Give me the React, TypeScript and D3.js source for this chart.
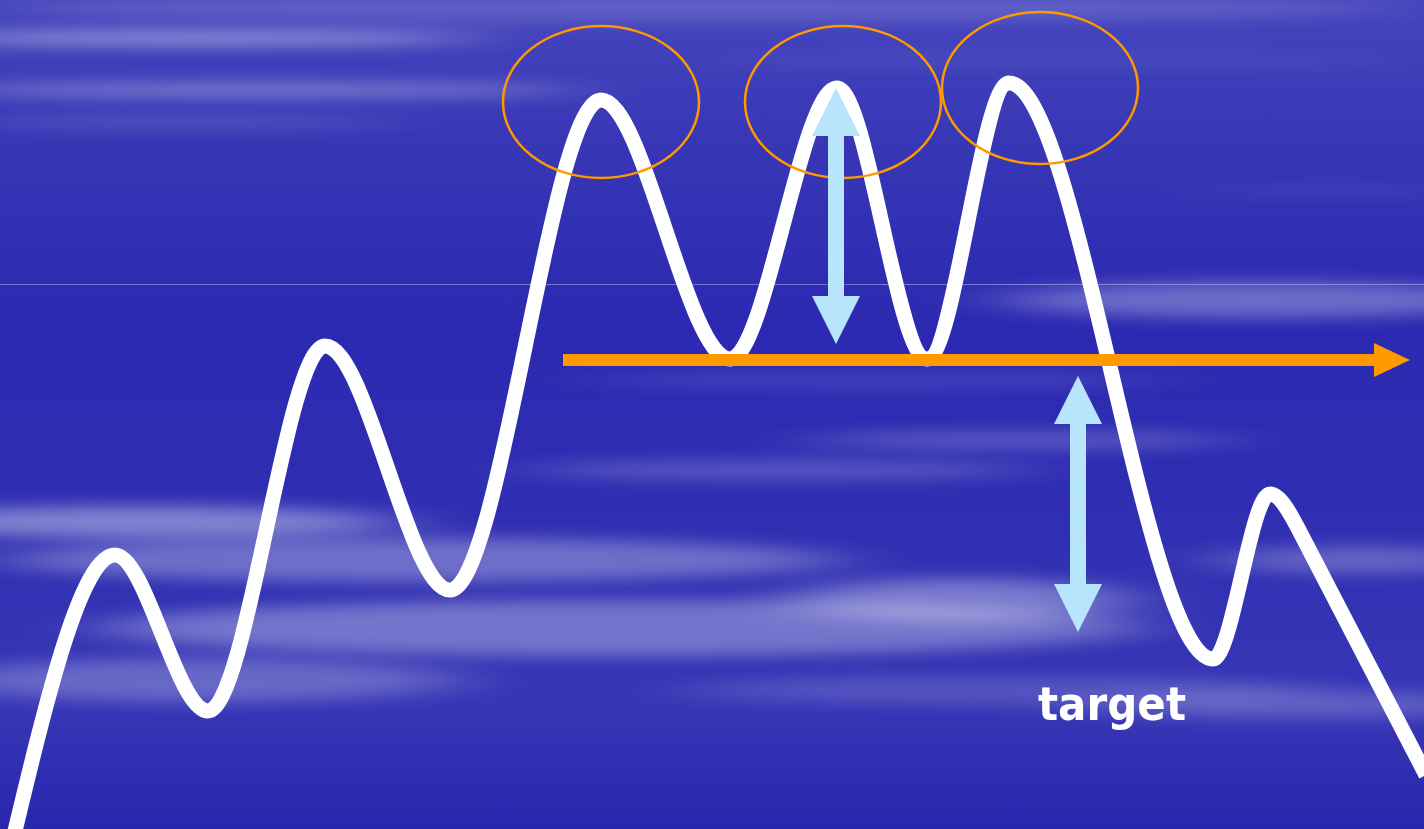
import React from "react";
import * as d3 from "d3";

const W = 1424;
const H = 829;

// wave (x position, level value; higher value = higher on screen)
const waveX = [14, 115, 208, 325, 450, 601, 730, 837, 927, 1009, 1213, 1270, 1301];
const waveV = [-6, 274, 118, 483, 239, 729, 470, 741, 470, 746, 170, 335, 295];
// straight final descent of the wave
const tailX = [1301, 1426];
const tailV = [295, 54];

// threshold line level
const thresholdV = 469;
const thresholdX = [563, 1410];

// highlighted peaks (ellipses)
const peakCx = [601, 843, 1040];
const peakCv = [727, 727, 741];

// double arrows: x, top value, bottom value
const arrowX = [836, 1078];
const arrowTopV = [741, 453];
const arrowBotV = [485, 197];

const labelText = "target";

// background streaks (decoration): cx, cy, rx, ry, opacity
const streaks: [number, number, number, number, number][] = [
  [200, 38, 280, 7, 0.45],
  [260, 90, 320, 7, 0.35],
  [180, 122, 220, 5, 0.18],
  [700, 8, 700, 14, 0.15],
  [1050, 60, 350, 6, 0.08],
  [1260, 300, 260, 18, 0.3],
  [1330, 190, 150, 4, 0.1],
  [140, 522, 260, 16, 0.4],
  [420, 560, 420, 22, 0.3],
  [620, 628, 520, 28, 0.32],
  [960, 600, 170, 22, 0.35],
  [780, 470, 260, 10, 0.2],
  [1020, 440, 220, 9, 0.22],
  [1360, 560, 150, 14, 0.25],
  [1300, 705, 220, 14, 0.2],
  [200, 680, 260, 22, 0.25],
  [1000, 690, 320, 14, 0.15],
  [880, 380, 300, 8, 0.12],
];

export default function App() {
  const x = d3.scaleLinear().domain([0, W]).range([0, W]);
  const y = d3.scaleLinear().domain([0, H]).range([H, 0]);

  const pts: [number, number][] = waveX.map((v, i) => [v, waveV[i]]);
  const tailPts: [number, number][] = tailX.map((v, i) => [v, tailV[i]]);
  const line = d3
    .line<[number, number]>()
    .x((d) => x(d[0]))
    .y((d) => y(d[1]))
    .curve(d3.curveMonotoneX);
  const straight = d3
    .line<[number, number]>()
    .x((d) => x(d[0]))
    .y((d) => y(d[1]));

  const ty = y(thresholdV);
  const x0 = x(thresholdX[0]);
  const x1 = x(thresholdX[1]);
  const headLen = 36;
  const orangePath = `M${x0},${ty - 6} L${x1 - headLen},${ty - 6} L${x1 - headLen},${ty - 17} L${x1},${ty} L${x1 - headLen},${ty + 17} L${x1 - headLen},${ty + 6} L${x0},${ty + 6} Z`;

  const dbl = (cx: number, yt: number, yb: number) => {
    const hw = 24;
    const sw = 8;
    const hl = 48;
    return `M${cx},${yt} L${cx + hw},${yt + hl} L${cx + sw},${yt + hl} L${cx + sw},${yb - hl} L${cx + hw},${yb - hl} L${cx},${yb} L${cx - hw},${yb - hl} L${cx - sw},${yb - hl} L${cx - sw},${yt + hl} L${cx - hw},${yt + hl} Z`;
  };

  const waveD = (line(pts) || "") + " " + (straight(tailPts) || "").replace(/^M/, "L");

  return (
    <svg
      width={W}
      height={H}
      style={{ position: "fixed", left: 0, top: 0, display: "block" }}
    >
      <defs>
        <linearGradient id="bg" x1="0" y1="0" x2="0" y2="1">
          <stop offset="0" stopColor="#4545bd" />
          <stop offset="0.2" stopColor="#3535b5" />
          <stop offset="0.4" stopColor="#2b29b1" />
          <stop offset="0.7" stopColor="#3131b3" />
          <stop offset="0.85" stopColor="#3737b6" />
          <stop offset="1" stopColor="#2826ae" />
        </linearGradient>
        <filter id="blur" x="-50%" y="-300%" width="200%" height="700%">
          <feGaussianBlur stdDeviation="45 8" />
        </filter>
      </defs>
      <rect x={0} y={0} width={W} height={H} fill="url(#bg)" />
      <g filter="url(#blur)">
        {streaks.map((s, i) => (
          <ellipse
            key={i}
            cx={s[0]}
            cy={s[1]}
            rx={s[2]}
            ry={s[3]}
            fill="#ffffff"
            opacity={s[4]}
          />
        ))}
      </g>
      <line
        x1={0}
        x2={W}
        y1={284.5}
        y2={284.5}
        stroke="#ffffff"
        strokeOpacity={0.35}
        strokeWidth={1}
      />
      <path
        d={waveD}
        fill="none"
        stroke="#ffffff"
        strokeWidth={15}
        strokeLinejoin="round"
      />
      {peakCx.map((cx, i) => (
        <ellipse
          key={i}
          cx={x(cx)}
          cy={y(peakCv[i])}
          rx={98}
          ry={76}
          fill="none"
          stroke="#ff9900"
          strokeWidth={2.5}
        />
      ))}
      <path d={orangePath} fill="#ff9900" />
      {arrowX.map((ax, i) => (
        <path
          key={i}
          d={dbl(x(ax), y(arrowTopV[i]), y(arrowBotV[i]))}
          fill="#b8e5fb"
        />
      ))}
      <text
        x={1038}
        y={720}
        fill="#ffffff"
        fontFamily="'DejaVu Sans', Verdana, sans-serif"
        fontWeight="bold"
        fontSize={46}
        textLength={148}
        lengthAdjust="spacingAndGlyphs"
      >
        {labelText}
      </text>
    </svg>
  );
}
